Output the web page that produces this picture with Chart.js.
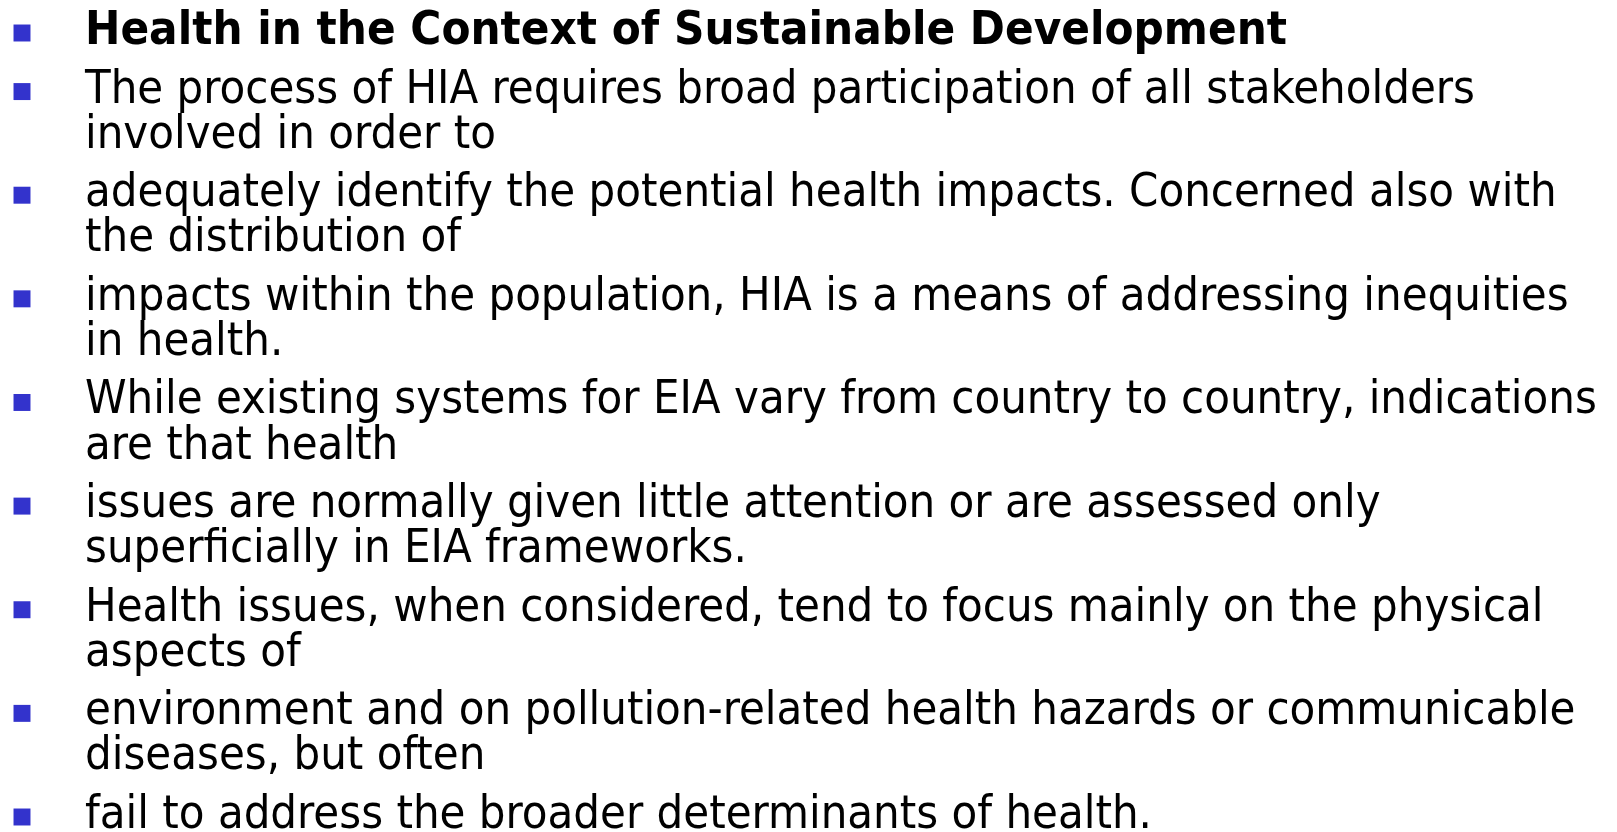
<!DOCTYPE html>
<html lang="en">
<head>
    <meta charset="UTF-8">
    <title>Health in the Context of Sustainable Development</title>
    <script src="https://cdn.jsdelivr.net/npm/chart.js"></script>
    <style>
        html, body { margin: 0; padding: 0; background: #fff; }
        #wrap { width: 1617px; height: 832px; position: relative; }
    </style>
</head>
<body>
    <div id="wrap"><canvas id="slide"></canvas></div>

    <script>
        // slide content: one entry per bullet, each bullet a list of printed lines
        const heading = ['Health in the Context of Sustainable Development'];
        const paragraphs = [
            ['The process of HIA requires broad participation of all stakeholders', 'involved in order to'],
            ['adequately identify the potential health impacts. Concerned also with', 'the distribution of'],
            ['impacts within the population, HIA is a means of addressing inequities', 'in health.'],
            ['While existing systems for EIA vary from country to country, indications', 'are that health'],
            ['issues are normally given little attention or are assessed only', 'superficially in EIA frameworks.'],
            ['Health issues, when considered, tend to focus mainly on the physical', 'aspects of'],
            ['environment and on pollution-related health hazards or communicable', 'diseases, but often'],
            ['fail to address the broader determinants of health.']
        ];
        const boldBullets = [true, false, false, false, false, false, false, false, false];

        const bullets = [heading, ...paragraphs];
        const paraGap = 0.3; // extra space between bullets, in lines

        // y position (in text lines) of each bullet
        let pos = [];
        let cur = 0;
        bullets.forEach(lines => {
            pos.push(cur);
            cur += lines.length + paraGap;
        });

        const fontFamily = '"DejaVu Sans Condensed", "DejaVu Sans", sans-serif';

        const textPlugin = {
            id: 'bulletText',
            afterDatasetsDraw(chart) {
                const ctx = chart.ctx;
                const yScale = chart.scales.y;
                const points = chart.getDatasetMeta(0).data;

                // squeeze the lines to the widths seen on the slide
                ctx.save();
                ctx.font = '46px ' + fontFamily;
                const sxReg = 1390 / ctx.measureText(paragraphs[0][0]).width;
                ctx.font = 'bold 46px ' + fontFamily;
                const sxBold = 1202 / ctx.measureText(heading[0]).width;
                ctx.restore();

                points.forEach((pt, i) => {
                    const bold = boldBullets[i];
                    bullets[i].forEach((line, j) => {
                        const base = yScale.getPixelForValue(pos[i] + j) + 11;
                        ctx.save();
                        ctx.font = (bold ? 'bold ' : '') + '46px ' + fontFamily;
                        ctx.fillStyle = '#000';
                        ctx.textBaseline = 'alphabetic';
                        ctx.translate(pt.x + 63, base);
                        ctx.scale(bold ? sxBold : sxReg, 1);
                        ctx.fillText(line, 0, 0);
                        ctx.restore();
                    });
                });
            }
        };

        new Chart(document.getElementById('slide'), {
            type: 'scatter',
            data: {
                datasets: [{
                    data: pos.map(p => ({ x: 0, y: p })),
                    pointStyle: 'rect',
                    pointRadius: 12,
                    pointHoverRadius: 12,
                    backgroundColor: '#3333cc',
                    borderColor: '#3333cc',
                    borderWidth: 0,
                    clip: false
                }]
            },
            options: {
                responsive: true,
                maintainAspectRatio: false,
                animation: false,
                events: [],
                layout: { padding: { left: 22, right: 0, top: 33, bottom: 15 } },
                plugins: { legend: { display: false }, tooltip: { enabled: false } },
                scales: {
                    x: { display: false, min: 0, max: 1 },
                    y: { display: false, reverse: true, min: 0, max: pos[pos.length - 1] }
                }
            },
            plugins: [textPlugin]
        });
    </script>
</body>
</html>
